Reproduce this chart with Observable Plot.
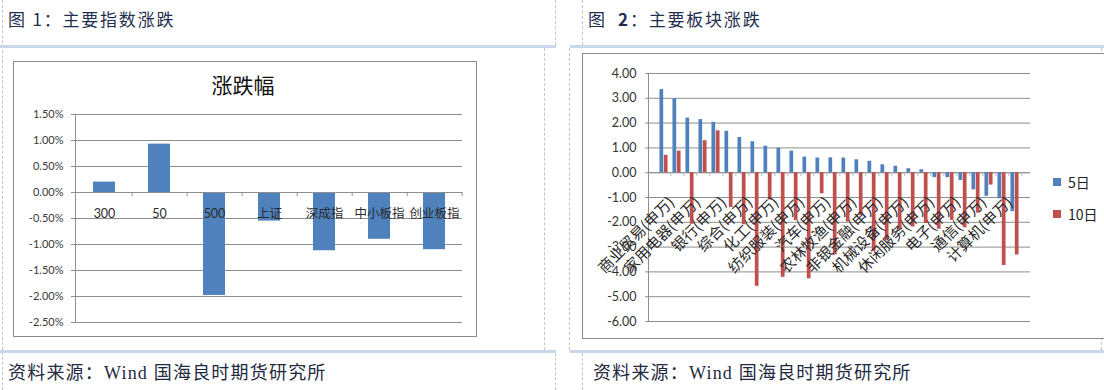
<!DOCTYPE html>
<html><head><meta charset="utf-8">
<script src="https://cdn.jsdelivr.net/npm/d3@7"></script>
<script src="https://cdn.jsdelivr.net/npm/@observablehq/plot@0.6"></script>
<style>
html,body{margin:0;padding:0;background:#fff;}
body{width:1104px;height:390px;position:relative;overflow:hidden;font-family:"Noto Sans CJK SC",sans-serif;}
.dv{position:absolute;border-left:1px dashed #c4c4c4;width:0;}
.blue{position:absolute;height:3px;background:#c9d7ea;}
.hdr{position:absolute;font-size:17px;letter-spacing:1.8px;color:#1f2f50;line-height:20px;white-space:nowrap;}
.cap{position:absolute;font-size:18px;letter-spacing:1.2px;color:#1f2a40;line-height:20px;white-space:nowrap;font-family:"Liberation Serif","Noto Sans CJK SC",serif;}
.box{position:absolute;border:1px solid #8a8a8a;box-sizing:border-box;background:#fff;}
.ttl{position:absolute;font-size:21px;color:#111;line-height:24px;white-space:nowrap;transform:translateX(-50%);}
.chart{position:absolute;}
#lg2 [class$="-swatch"]{height:31px;align-items:center;}
</style></head><body>
<!-- frame lines -->
<div class="dv" style="left:2px;top:0;height:390px"></div>
<div class="dv" style="left:555px;top:0;height:45px"></div>
<div class="dv" style="left:544px;top:48px;height:302px"></div>
<div class="dv" style="left:555px;top:353px;height:37px"></div>
<div class="dv" style="left:582px;top:0;height:45px"></div>
<div class="dv" style="left:569px;top:48px;height:302px"></div>
<div class="dv" style="left:582px;top:353px;height:37px"></div>
<div class="dv" style="left:1101px;top:48px;height:302px"></div>
<div class="blue" style="left:0;top:45px;width:556px"></div>
<div class="blue" style="left:570px;top:45px;width:534px"></div>
<div class="blue" style="left:0;top:350px;width:556px"></div>
<div class="blue" style="left:570px;top:350px;width:534px"></div>

<div class="hdr" style="left:8px;top:9px">图 1：主要指数涨跌</div>
<div class="hdr" style="left:588px;top:9px">图&nbsp; <b>2</b>：主要板块涨跌</div>
<div class="cap" style="left:8px;top:363px">资料来源：Wind 国海良时期货研究所</div>
<div class="cap" style="left:593px;top:363px">资料来源：Wind 国海良时期货研究所</div>

<div class="box" style="left:13px;top:61px;width:464px;height:276px"></div>
<div class="ttl" style="left:243px;top:72px">涨跌幅</div>
<div class="box" style="left:582px;top:53px;width:540px;height:286px"></div>

<div id="c1" class="chart" style="left:14px;top:100px"></div>
<div id="c2" class="chart" style="left:583px;top:56px"></div>
<div id="lg2" class="chart" style="left:1053px;top:166px"></div>

<script>
// ---------- Figure 1: main indices ----------
const indexNames = ["300", "50", "500", "上证", "深成指", "中小板指", "创业板指"];
const indexChange = [0.20, 0.93, -1.98, -0.55, -1.12, -0.90, -1.10];
const indexTicks = [-2.5, -2, -1.5, -1, -0.5, 0, 0.5, 1, 1.5];

// ---------- Figure 2: Shenwan sectors ----------
const sectors = [
  "商业贸易(申万)", "食品饮料(申万)", "家用电器(申万)", "钢铁(申万)", "银行(申万)",
  "建筑装饰(申万)", "综合(申万)", "建筑材料(申万)", "化工(申万)", "交通运输(申万)",
  "纺织服装(申万)", "房地产(申万)", "汽车(申万)", "有色金属(申万)", "农林牧渔(申万)",
  "公用事业(申万)", "非银金融(申万)", "采掘(申万)", "机械设备(申万)", "轻工制造(申万)",
  "休闲服务(申万)", "医药生物(申万)", "电子(申万)", "电气设备(申万)", "通信(申万)",
  "传媒(申万)", "计算机(申万)", "国防军工(申万)"
];
const sectorLabels = sectors.filter((d, i) => i % 2 === 0);
const change5d = [3.35, 2.98, 2.20, 2.14, 2.03, 1.67, 1.42, 1.25, 1.07, 0.99, 0.87, 0.63, 0.59, 0.60,
  0.59, 0.52, 0.46, 0.32, 0.26, 0.16, 0.12, -0.20, -0.20, -0.31, -0.69, -0.95, -1.05, -1.57];
const change10d = [0.70, 0.87, -2.08, 1.29, 1.69, -1.40, -2.10, -4.58, -1.10, -4.22, -1.93, -4.28, -0.85, -3.32,
  -1.99, -1.72, -3.17, -2.75, -2.30, -2.19, -2.05, -2.28, -1.92, -2.22, -1.63, -0.50, -3.74, -3.32];
const seriesNames = ["5日", "10日"];
const sectorTicks = [-6, -5, -4, -3, -2, -1, 0, 1, 2, 3, 4];

const blue = "#4f81bd", red = "#c0504d", gridC = "#8e8e8e";
const latin = "Lato, 'Noto Sans CJK SC', sans-serif";

// ----- chart 1 -----
const W1 = 462, H1 = 236, ML1 = 61, MR1 = 14;
const step1 = (W1 - ML1 - MR1) / indexNames.length;
const indexRows = indexNames.map((name, i) => ({name, value: indexChange[i]}));
const plot1 = Plot.plot({
  width: W1, height: H1, marginLeft: ML1, marginRight: MR1, marginTop: 14, marginBottom: 14,
  style: {fontFamily: latin, background: "transparent", overflow: "visible"},
  x: {domain: indexNames, paddingInner: 0.6, paddingOuter: 0.3, axis: null},
  y: {domain: [-2.5, 1.5], axis: null},
  marks: [
    Plot.gridY(indexTicks, {stroke: gridC, strokeOpacity: 1}),
    Plot.axisY(indexTicks, {label: null, tickSize: 4, tickPadding: 8, stroke: gridC, fill: "#3a3a3a", fontSize: 11,
      fontFamily: latin, tickFormat: d => d.toFixed(2) + "%"}),
    Plot.frame({anchor: "left", stroke: gridC}),
    Plot.barY(indexRows, {x: "name", y: "value", fill: blue}),
    Plot.ruleY([0], {stroke: gridC}),
    Plot.ruleX(indexNames, {x: d => d, y1: 0, y2: -0.08, dx: step1 / 2, stroke: gridC}),
    Plot.text(indexRows, {x: "name", y: 0, text: "name", dy: 21, fontSize: 12.5, fill: "#2a2a2a", fontFamily: latin})
  ]
});
document.getElementById("c1").appendChild(plot1);

// ----- chart 2 -----
const W2 = 521, H2 = 282, ML2 = 65, MR2 = 74;
const step2 = (W2 - ML2 - MR2) / sectors.length;
const rows5 = sectors.map((s, i) => ({sector: s, series: seriesNames[0], value: change5d[i]}));
const rows10 = sectors.map((s, i) => ({sector: s, series: seriesNames[1], value: change10d[i]}));
const plot2 = Plot.plot({
  width: W2, height: H2, marginLeft: ML2, marginRight: MR2, marginTop: 17, marginBottom: 17,
  style: {fontFamily: latin, background: "transparent", overflow: "visible"},
  x: {domain: sectors, padding: 0, axis: null},
  y: {domain: [-6, 4], axis: null},
  color: {domain: seriesNames, range: [blue, red]},
  marks: [
    Plot.gridY(sectorTicks, {stroke: gridC, strokeOpacity: 1}),
    Plot.axisY(sectorTicks, {label: null, tickSize: 3, tickPadding: 9, stroke: gridC, fill: "#333", fontSize: 12.5,
      fontFamily: latin, tickFormat: d => d.toFixed(2)}),
    Plot.frame({anchor: "left", stroke: gridC}),
    Plot.ruleY([0], {stroke: gridC}),
    Plot.ruleX(sectors, {x: d => d, y1: 0, y2: -0.16, dx: step2 / 2, stroke: "#b8b8b8"}),
    Plot.barY(rows5, {x: "sector", y: "value", fill: "series", insetLeft: step2 * 0.18, insetRight: step2 * 0.5}),
    Plot.barY(rows10, {x: "sector", y: "value", fill: "series", insetLeft: step2 * 0.5, insetRight: step2 * 0.18}),
    Plot.text(sectorLabels, {x: d => d, y: 0, text: d => d, rotate: -45, textAnchor: "end",
      dx: 8, dy: 27, fontSize: 15, fill: "#2a2a2a", fontFamily: "'Noto Sans CJK SC', sans-serif"})
  ]
});
document.getElementById("c2").appendChild(plot2);

const lg = plot2.legend("color", {columns: 1, swatchSize: 8,
  style: {fontSize: "14px", fontFamily: "'Noto Sans CJK SC', sans-serif", color: "#222", margin: 0}});
document.getElementById("lg2").appendChild(lg);
</script>
</body></html>
